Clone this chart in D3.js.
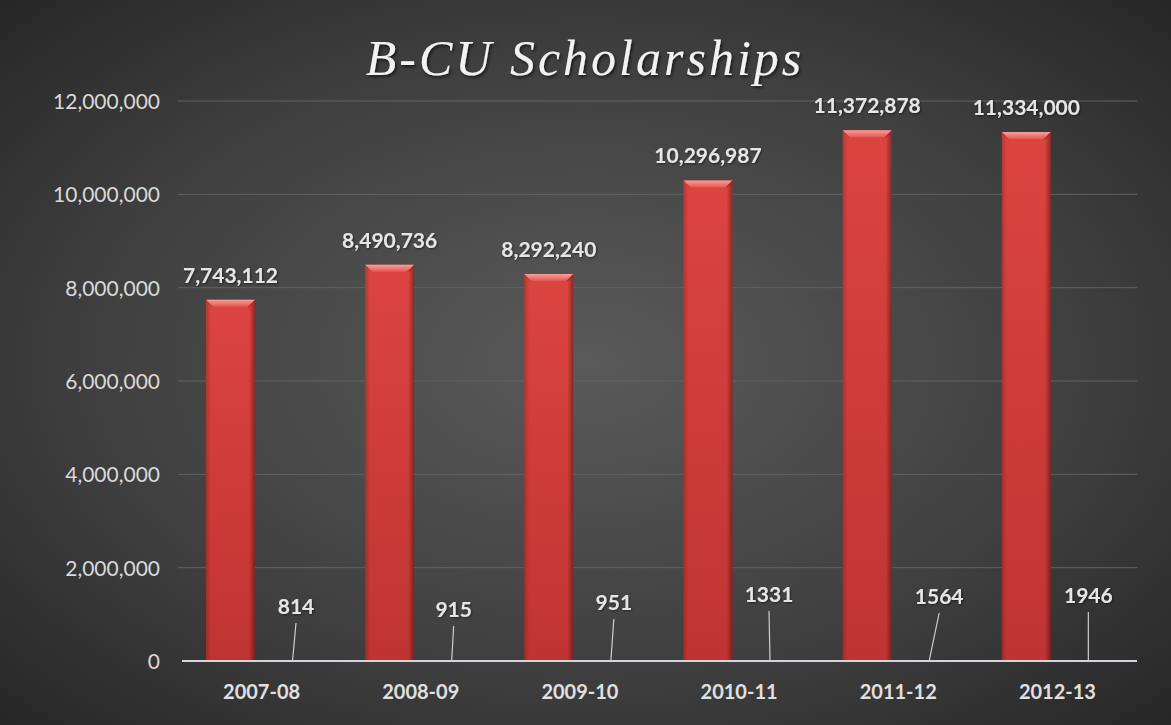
<!DOCTYPE html>
<html>
<head>
<meta charset="utf-8">
<script src="https://cdn.jsdelivr.net/npm/d3@7"></script>
<style>
  html, body { margin: 0; padding: 0; background: #333; }
  svg { display: block; }
</style>
</head>
<body>
<svg id="chart" width="1171" height="725"></svg>
<script>
// ---- data ----
const categories = ["2007-08", "2008-09", "2009-10", "2010-11", "2011-12", "2012-13"];
const scholarshipAmounts = [7743112, 8490736, 8292240, 10296987, 11372878, 11334000];
const scholarshipCounts = [814, 915, 951, 1331, 1564, 1946];
const yTicks = [0, 2000000, 4000000, 6000000, 8000000, 10000000, 12000000];
const titleText = "B-CU Scholarships";

// ---- layout (not data) ----
const W = 1171, H = 725;
const plot = { left: 182, right: 1137, top: 101, bottom: 661 };
// hand-placed count label nudges (dx from bar centre, label centre height above baseline)
const countLabelNudge = [[2.5, 54], [1, 51], [2, 58], [-2, 66], [9, 64], [-1, 65]];

const svg = d3.select("#chart");
const defs = svg.append("defs");

// background radial gradient
const bg = defs.append("radialGradient").attr("id", "bg")
  .attr("cx", "50%").attr("cy", "50%").attr("r", "75%");
bg.append("stop").attr("offset", "0%").attr("stop-color", "#5a5a5a");
bg.append("stop").attr("offset", "55%").attr("stop-color", "#404040");
bg.append("stop").attr("offset", "100%").attr("stop-color", "#232323");
svg.append("rect").attr("width", W).attr("height", H).attr("fill", "url(#bg)");

// bar gradients
const barV = defs.append("linearGradient").attr("id", "barV").attr("x1", 0).attr("y1", 0).attr("x2", 0).attr("y2", 1);
barV.append("stop").attr("offset", "0%").attr("stop-color", "#dc4440");
barV.append("stop").attr("offset", "100%").attr("stop-color", "#bf3432");
const barH = defs.append("linearGradient").attr("id", "barH").attr("x1", 0).attr("y1", 0).attr("x2", 1).attr("y2", 0);
barH.append("stop").attr("offset", "0%").attr("stop-color", "#000").attr("stop-opacity", 0.18);
barH.append("stop").attr("offset", "10%").attr("stop-color", "#000").attr("stop-opacity", 0);
barH.append("stop").attr("offset", "88%").attr("stop-color", "#000").attr("stop-opacity", 0);
barH.append("stop").attr("offset", "100%").attr("stop-color", "#000").attr("stop-opacity", 0.38);
const bevel = defs.append("linearGradient").attr("id", "bevel").attr("x1", 0).attr("y1", 0).attr("x2", 0).attr("y2", 1);
bevel.append("stop").attr("offset", "0%").attr("stop-color", "#f7a09a");
bevel.append("stop").attr("offset", "100%").attr("stop-color", "#e85550");

const shadow = defs.append("filter").attr("id", "tshadow").attr("x", "-10%").attr("y", "-10%").attr("width", "120%").attr("height", "130%");
shadow.append("feDropShadow").attr("dx", 1.5).attr("dy", 2).attr("stdDeviation", 1.5).attr("flood-color", "#000").attr("flood-opacity", 0.6);
const sshadow = defs.append("filter").attr("id", "lshadow");
sshadow.append("feDropShadow").attr("dx", 1).attr("dy", 1).attr("stdDeviation", 0.8).attr("flood-color", "#000").attr("flood-opacity", 0.5);

// scales
const x0 = d3.scaleBand().domain(categories).range([plot.left, plot.right]).padding(0);
const x1 = d3.scaleBand().domain(["amount", "count"]).range([24, 136]).paddingInner(14 / 63).paddingOuter(0);
const y = d3.scaleLinear().domain([0, 12000000]).range([plot.bottom, plot.top]);

// gridlines
svg.append("g").selectAll("line").data(yTicks.filter(d => d > 0)).join("line")
  .attr("x1", plot.left - 4).attr("x2", plot.right)
  .attr("y1", d => y(d)).attr("y2", d => y(d))
  .attr("stroke", "#626262").attr("stroke-width", 1);

// y axis labels
const yAxis = d3.axisLeft(y).tickValues(yTicks).tickFormat(d3.format(",")).tickSize(0).tickPadding(22);
const gy = svg.append("g").attr("transform", `translate(${plot.left},0)`).call(yAxis);
gy.select(".domain").remove();
gy.selectAll("text").attr("fill", "#d9d9d9").attr("font-family", "Lato, 'Open Sans', sans-serif")
  .attr("font-size", 21).attr("dy", "0.35em");

// amount bars
const barW = x1.bandwidth();
const bars = svg.append("g").selectAll("g").data(scholarshipAmounts).join("g")
  .attr("transform", (d, i) => `translate(${x0(categories[i]) + x1("amount")},0)`);
bars.append("rect").attr("x", 0).attr("y", d => y(d)).attr("width", barW)
  .attr("height", d => y(0) - y(d)).attr("fill", "url(#barV)");
bars.append("rect").attr("x", 0).attr("y", d => y(d)).attr("width", barW)
  .attr("height", d => y(0) - y(d)).attr("fill", "url(#barH)");
const b = 7;
bars.append("polygon")
  .attr("points", d => { const t = y(d); return `0,${t} ${barW},${t} ${barW - b},${t + b} ${b},${t + b}`; })
  .attr("fill", "url(#bevel)");
bars.append("polygon")
  .attr("points", d => { const t = y(d); return `0,${t} ${b},${t + b} ${b},${t + b + 1} 0,${t + 3}`; })
  .attr("fill", "#c03a36").attr("opacity", 0.6);
bars.append("polygon")
  .attr("points", d => { const t = y(d); return `${barW},${t} ${barW - b},${t + b} ${barW - b},${t + b + 1} ${barW},${t + 3}`; })
  .attr("fill", "#9a2626").attr("opacity", 0.7);

// count bars (tiny)
svg.append("g").selectAll("rect").data(scholarshipCounts).join("rect")
  .attr("x", (d, i) => x0(categories[i]) + x1("count"))
  .attr("y", d => y(d)).attr("width", barW)
  .attr("height", d => Math.max(0, y(0) - y(d))).attr("fill", "#4f81bd");

// baseline
svg.append("line").attr("x1", plot.left).attr("x2", plot.right)
  .attr("y1", y(0)).attr("y2", y(0)).attr("stroke", "#d4d4e0").attr("stroke-width", 2);

// amount labels
svg.append("g").selectAll("text").data(scholarshipAmounts).join("text")
  .attr("x", (d, i) => x0(categories[i]) + x1("amount") + barW / 2)
  .attr("y", d => y(d) - 17)
  .attr("text-anchor", "middle").attr("fill", "#e6e6e6")
  .attr("font-family", "Lato, 'Open Sans', sans-serif").attr("font-weight", "bold").attr("font-size", 21)
  .attr("filter", "url(#lshadow)")
  .text(d => d3.format(",")(d));

// count labels with leader lines
const cg = svg.append("g");
scholarshipCounts.forEach((d, i) => {
  const cx = x0(categories[i]) + x1("count") + barW / 2;
  const [dx, h] = countLabelNudge[i];
  const ly = y(0) - h;
  cg.append("line").attr("x1", cx + dx).attr("y1", ly + 16).attr("x2", cx - 1).attr("y2", y(d))
    .attr("stroke", "#cfcfcf").attr("stroke-width", 1.2);
  cg.append("text").attr("x", cx + dx).attr("y", ly + 7).attr("text-anchor", "middle")
    .attr("fill", "#e6e6e6").attr("font-family", "Lato, 'Open Sans', sans-serif")
    .attr("font-weight", "bold").attr("font-size", 21).attr("filter", "url(#lshadow)")
    .text(d);
});

// category labels
const xAxis = d3.axisBottom(x0).tickSize(0).tickPadding(24);
const gx = svg.append("g").attr("transform", `translate(0,${plot.bottom})`).call(xAxis);
gx.select(".domain").remove();
gx.selectAll("text").attr("fill", "#e0e0e0").attr("font-family", "Lato, 'Open Sans', sans-serif")
  .attr("font-weight", "bold").attr("font-size", 20);

// title
svg.append("text").attr("x", 585).attr("y", 75).attr("text-anchor", "middle")
  .attr("fill", "#f2f2f2").attr("font-family", "'Liberation Serif', 'DejaVu Serif', serif")
  .attr("font-style", "italic").attr("font-size", 50).attr("letter-spacing", 3)
  .attr("filter", "url(#tshadow)")
  .text(titleText);
</script>
</body>
</html>
